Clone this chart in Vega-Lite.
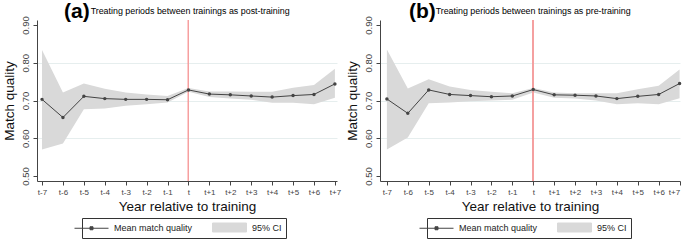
{
  "$schema": "https://vega.github.io/schema/vega-lite/v6.json",
  "padding": {"left": 2, "top": 0, "right": 0, "bottom": 0},
  "datasets": {
    "a": [
      {"k": -7, "m": 0.703, "lo": 0.570, "hi": 0.834},
      {"k": -6, "m": 0.655, "lo": 0.586, "hi": 0.721},
      {"k": -5, "m": 0.711, "lo": 0.677, "hi": 0.745},
      {"k": -4, "m": 0.705, "lo": 0.679, "hi": 0.731},
      {"k": -3, "m": 0.703, "lo": 0.686, "hi": 0.721},
      {"k": -2, "m": 0.703, "lo": 0.690, "hi": 0.716},
      {"k": -1, "m": 0.702, "lo": 0.695, "hi": 0.712},
      {"k": 0, "m": 0.728, "lo": 0.723, "hi": 0.733},
      {"k": 1, "m": 0.717, "lo": 0.709, "hi": 0.724},
      {"k": 2, "m": 0.715, "lo": 0.705, "hi": 0.724},
      {"k": 3, "m": 0.712, "lo": 0.702, "hi": 0.723},
      {"k": 4, "m": 0.709, "lo": 0.694, "hi": 0.723},
      {"k": 5, "m": 0.713, "lo": 0.694, "hi": 0.734},
      {"k": 6, "m": 0.716, "lo": 0.690, "hi": 0.741},
      {"k": 7, "m": 0.744, "lo": 0.707, "hi": 0.784}
    ],
    "b": [
      {"k": -7, "m": 0.704, "lo": 0.570, "hi": 0.835},
      {"k": -6, "m": 0.666, "lo": 0.602, "hi": 0.732},
      {"k": -5, "m": 0.728, "lo": 0.693, "hi": 0.756},
      {"k": -4, "m": 0.716, "lo": 0.695, "hi": 0.737},
      {"k": -3, "m": 0.713, "lo": 0.698, "hi": 0.728},
      {"k": -2, "m": 0.710, "lo": 0.700, "hi": 0.723},
      {"k": -1, "m": 0.712, "lo": 0.702, "hi": 0.719},
      {"k": 0, "m": 0.729, "lo": 0.721, "hi": 0.733},
      {"k": 1, "m": 0.715, "lo": 0.707, "hi": 0.721},
      {"k": 2, "m": 0.714, "lo": 0.705, "hi": 0.719},
      {"k": 3, "m": 0.712, "lo": 0.700, "hi": 0.719},
      {"k": 4, "m": 0.705, "lo": 0.690, "hi": 0.719},
      {"k": 5, "m": 0.711, "lo": 0.693, "hi": 0.730},
      {"k": 6, "m": 0.716, "lo": 0.690, "hi": 0.739},
      {"k": 7, "m": 0.745, "lo": 0.706, "hi": 0.782}
    ]
  },
  "config": {
    "view": {"stroke": null},
    "font": "Liberation Sans",
    "axis": {
      "domainColor": "#444", "tickColor": "#444", "tickSize": 4,
      "labelFont": "Liberation Sans", "labelColor": "#444",
      "titleFont": "Liberation Sans", "titleFontWeight": "normal", "titleColor": "#111", "titleFontSize": 13.5
    },
    "legend": {
      "labelFont": "Liberation Sans", "labelFontSize": 9, "labelColor": "#222"
    },
    "title": {"font": "Liberation Sans", "subtitleFont": "Liberation Sans"}
  },
  "resolve": {"scale": {"color": "independent"}, "legend": {"color": "independent"}},
  "spacing": 4,
  "hconcat": [
    {
      "width": 300, "height": 161,
      "data": {"name": "a"},
      "title": {"text": "(a)", "subtitle": "\u200b\u2003\u2003\u2003Treating periods between trainings as post-training", "anchor": "start", "frame": "group", "dx": 27, "dy": 4, "fontSize": 21, "fontWeight": "bold", "color": "#000", "subtitleFontSize": 8.9, "subtitleColor": "#000", "subtitlePadding": -15, "offset": -2},
      "encoding": {
        "x": {"field": "k", "type": "quantitative", "scale": {"domain": [-7.24, 7.1], "nice": false, "zero": false},
          "axis": {"values": [-7,-6,-5,-4,-3,-2,-1,0,1,2,3,4,5,6,7], "labelExpr": "datum.value == 0 ? 't' : (datum.value < 0 ? 't' + datum.value : 't+' + datum.value)", "labelFontSize": 8, "labelPadding": 3, "title": "Year relative to training", "titlePadding": 3, "grid": false}}
      },
      "layer": [
        {
          "mark": {"type": "area"},
          "encoding": {
            "y": {"field": "lo", "type": "quantitative", "scale": {"domain": [0.4867, 0.9133], "nice": false, "zero": false},
              "axis": {"values": [0.5, 0.6, 0.7, 0.8, 0.9], "format": ".2f", "labelAngle": -90, "labelFontSize": 9.5, "labelPadding": 3, "title": "Match quality", "titlePadding": 4,
                "grid": true, "gridColor": "#e6eeee", "gridOpacity": {"condition": {"test": "datum.value < 0.55 || datum.value > 0.85", "value": 0}, "value": 1}}},
            "y2": {"field": "hi"},
            "color": {"datum": "95% CI", "type": "nominal",
              "scale": {"domain": ["Mean match quality", "95% CI"], "range": ["#444444", "#d9d9d9"]},
              "legend": {"title": null, "orient": "none", "legendX": 45, "legendY": 198, "direction": "horizontal", "columns": 2, "columnPadding": 17, "strokeColor": "#333", "padding": 4, "labelOffset": 17, "symbolSize": 100,
                "encode": {"symbols": {"update": {
                  "shape": {"signal": "datum.value === '95% CI' ? 'M-3.4,-0.9H3.4V0.9H-3.4Z' : 'M-3.4,0H3.4M-0.3,-0.3H0.3V0.3H-0.3Z'"},
                  "fill": {"signal": "datum.value === '95% CI' ? '#d9d9d9' : '#444444'"},
                  "stroke": {"signal": "datum.value === '95% CI' ? null : '#444444'"},
                  "strokeWidth": {"value": 1}, "opacity": {"value": 1}, "fillOpacity": {"value": 1}, "size": {"value": 100}}}}}}
          }
        },
        {
          "mark": {"type": "rule", "color": "#f4a0a0", "strokeWidth": 1},
          "encoding": {"x": {"datum": 0}}
        },
        {
          "mark": {"type": "line", "strokeWidth": 1, "point": {"filled": true, "size": 12}},
          "encoding": {
            "y": {"field": "m", "type": "quantitative"},
            "color": {"datum": "Mean match quality", "type": "nominal"}
          }
        }
      ]
    },
    {
      "width": 300, "height": 161,
      "data": {"name": "b"},
      "title": {"text": "(b)", "subtitle": "\u200b\u2003\u2003\u2003Treating periods between trainings as pre-training", "anchor": "start", "frame": "group", "dx": 29, "dy": 4, "fontSize": 21, "fontWeight": "bold", "color": "#000", "subtitleFontSize": 8.9, "subtitleColor": "#000", "subtitlePadding": -15, "offset": -2},
      "encoding": {
        "x": {"field": "k", "type": "quantitative", "scale": {"domain": [-7.33, 7.02], "nice": false, "zero": false},
          "axis": {"values": [-7,-6,-5,-4,-3,-2,-1,0,1,2,3,4,5,6,7], "labelExpr": "datum.value == 0 ? 't' : (datum.value < 0 ? 't' + datum.value : 't+' + datum.value)", "labelFontSize": 8, "labelPadding": 3, "title": "Year relative to training", "titlePadding": 3, "grid": false}}
      },
      "layer": [
        {
          "mark": {"type": "area"},
          "encoding": {
            "y": {"field": "lo", "type": "quantitative", "scale": {"domain": [0.4867, 0.9133], "nice": false, "zero": false},
              "axis": {"values": [0.5, 0.6, 0.7, 0.8, 0.9], "format": ".2f", "labelAngle": -90, "labelFontSize": 9.5, "labelPadding": 3, "title": "Match quality", "titlePadding": 4,
                "grid": true, "gridColor": "#e6eeee", "gridOpacity": {"condition": {"test": "datum.value < 0.55 || datum.value > 0.85", "value": 0}, "value": 1}}},
            "y2": {"field": "hi"},
            "color": {"datum": "95% CI", "type": "nominal",
              "scale": {"domain": ["Mean match quality", "95% CI"], "range": ["#444444", "#d9d9d9"]},
              "legend": {"title": null, "orient": "none", "legendX": 47, "legendY": 198, "direction": "horizontal", "columns": 2, "columnPadding": 17, "strokeColor": "#333", "padding": 4, "labelOffset": 17, "symbolSize": 100,
                "encode": {"symbols": {"update": {
                  "shape": {"signal": "datum.value === '95% CI' ? 'M-3.4,-0.9H3.4V0.9H-3.4Z' : 'M-3.4,0H3.4M-0.3,-0.3H0.3V0.3H-0.3Z'"},
                  "fill": {"signal": "datum.value === '95% CI' ? '#d9d9d9' : '#444444'"},
                  "stroke": {"signal": "datum.value === '95% CI' ? null : '#444444'"},
                  "strokeWidth": {"value": 1}, "opacity": {"value": 1}, "fillOpacity": {"value": 1}, "size": {"value": 100}}}}}}
          }
        },
        {
          "mark": {"type": "rule", "color": "#f4a0a0", "strokeWidth": 1},
          "encoding": {"x": {"datum": 0}}
        },
        {
          "mark": {"type": "line", "strokeWidth": 1, "point": {"filled": true, "size": 12}},
          "encoding": {
            "y": {"field": "m", "type": "quantitative"},
            "color": {"datum": "Mean match quality", "type": "nominal"}
          }
        }
      ]
    }
  ]
}
